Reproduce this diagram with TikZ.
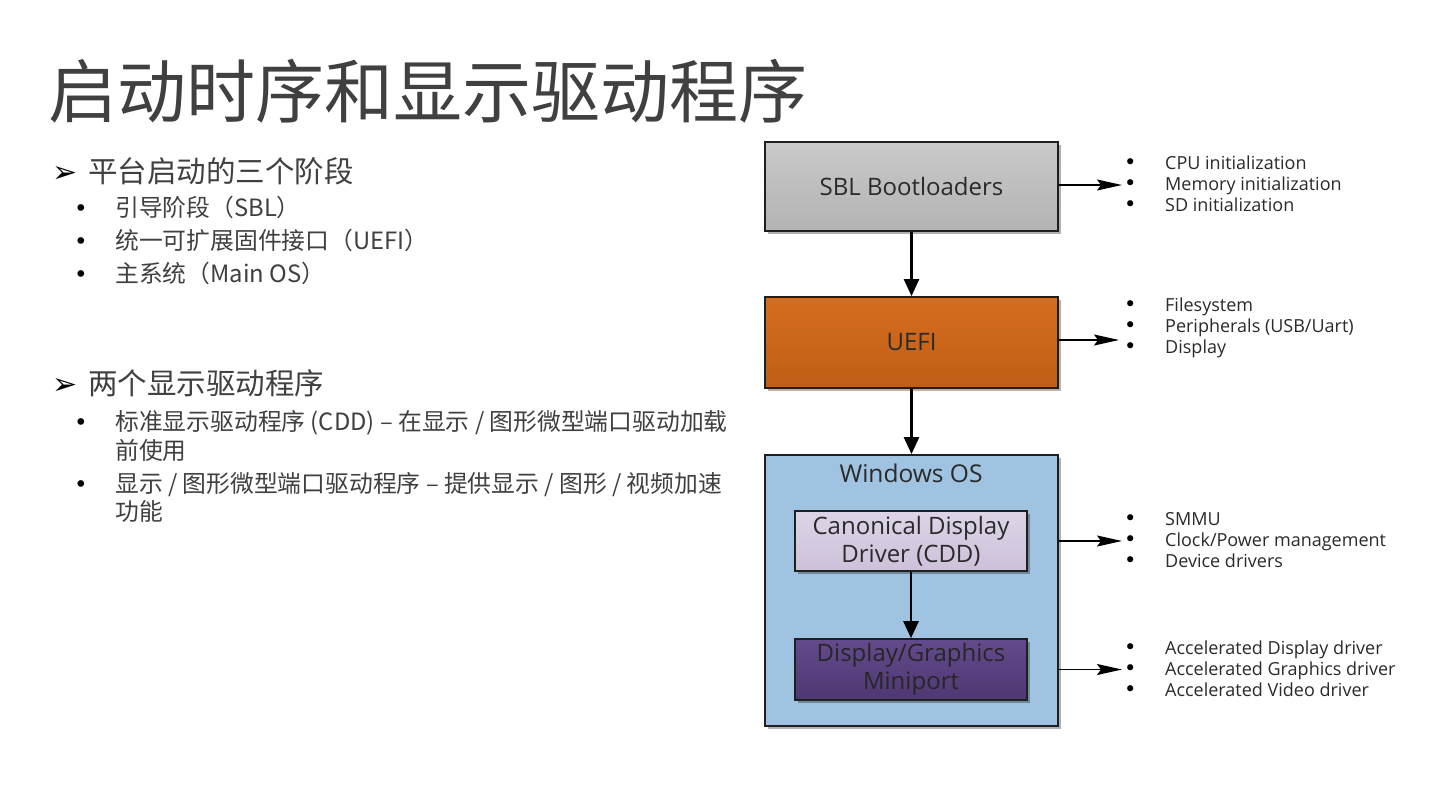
\documentclass[tikz,border=0pt]{standalone}
\usepackage{fontspec}
\setmainfont{Open Sans}
\newfontfamily\cjk{Noto Sans CJK SC}
\newfontfamily\dejavu{DejaVu Sans}
\usetikzlibrary{arrows.meta,shadows}
\definecolor{txt}{HTML}{404040}
\definecolor{boxtxt}{HTML}{2A2A2A}
\definecolor{sblTop}{HTML}{C9C9C9}
\definecolor{sblBot}{HTML}{B3B3B3}
\definecolor{uefiTop}{HTML}{D66D1E}
\definecolor{uefiBot}{HTML}{BF5E17}
\definecolor{winFill}{HTML}{9FC3E0}
\definecolor{cddTop}{HTML}{DDD5E7}
\definecolor{cddBot}{HTML}{CDC1DA}
\definecolor{miniTop}{HTML}{634A8C}
\definecolor{miniBot}{HTML}{4E3872}
\newcommand{\arrbul}{\makebox[36pt][l]{\raisebox{0pt}{\color{black}\dejavu\fontsize{30}{30}\selectfont ➢}}}
\newcommand{\dotbul}{\makebox[41pt][l]{\color{black}\dejavu\fontsize{23}{23}\selectfont •}}
\newcommand{\rbul}{\makebox[41pt][l]{\color{black}\dejavu\fontsize{21}{21}\selectfont •}}
\begin{document}
\begin{tikzpicture}[x=1pt,y=-1pt,
  lft/.style={anchor=base west, inner sep=0pt, text=txt},
  headtxt/.style={lft, font=\cjk\fontsize{29.5}{29.5}\selectfont},
  subtxt/.style={lft, font=\cjk\fontsize{23.8}{29}\selectfont},
  box/.style={draw=black!88, line width=1.8pt, minimum width=293pt, inner sep=0pt,
    text=boxtxt, font=\fontsize{24}{28}\selectfont, align=center,
    drop shadow={shadow xshift=2.5pt, shadow yshift=-2.5pt, opacity=0.3, fill=black}},
  inbox/.style={box, minimum width=232pt, line width=1.6pt},
  varrow/.style={line width=2.6pt, black, -{Triangle[length=17pt,width=15pt]}},
  harrow/.style={line width=1.4pt, black, -{Stealth[length=25pt,width=11pt,inset=4pt]}},
  rlist/.style={anchor=west, inner sep=0pt, align=left, text=boxtxt,
    font=\fontsize{18}{21}\selectfont}
]
\useasboundingbox[fill=white] (0,0) rectangle (1441,811);

% title
\node[lft, font=\cjk\fontsize{69}{69}\selectfont] (title) at (48,117) {启动时序和显示驱动程序};

% left text
\node[headtxt] (h1) at (52,182) {\arrbul 平台启动的三个阶段};
\node[subtxt] (s1) at (74,216) {\dotbul 引导阶段（SBL）};
\node[subtxt] (s2) at (74,249) {\dotbul 统一可扩展固件接口（UEFI）};
\node[subtxt] (s3) at (74,282) {\dotbul 主系统（Main OS）};
\node[headtxt] (h2) at (52,394) {\arrbul 两个显示驱动程序};
\node[subtxt] (s4) at (74,430) {\dotbul 标准显示驱动程序 (CDD) – 在显示 / 图形微型端口驱动加载};
\node[subtxt] (s4b) at (115,459) {前使用};
\node[subtxt] (s5) at (74,492) {\dotbul 显示 / 图形微型端口驱动程序 – 提供显示 / 图形 / 视频加速};
\node[subtxt] (s5b) at (115,520) {功能};

% diagram boxes
\node[box, minimum height=89pt, top color=sblTop, bottom color=sblBot] (sbl) at (911.5,186.5) {SBL Bootloaders};
\node[box, minimum height=91pt, top color=uefiTop, bottom color=uefiBot] (uefi) at (911.5,342.5) {UEFI};
\node[box, minimum height=271pt, fill=winFill] (win) at (911.5,590.5) {};
\node[inner sep=0pt, text=boxtxt, font=\fontsize{24.5}{28}\selectfont] (wlab) at (911,473) {Windows OS};
\node[inbox, minimum height=60pt, top color=cddTop, bottom color=cddBot] (cdd) at (911,541) {Canonical Display\\Driver (CDD)};
\node[inbox, minimum height=61pt, top color=miniTop, bottom color=miniBot, text=black!85] (mini) at (911,669.5) {Display/Graphics\\Miniport};

% vertical arrows
\draw[varrow] (sbl.south) -- (uefi.north);
\draw[varrow] (uefi.south) -- (win.north);
\draw[varrow] (cdd.south) -- (mini.north);

% right lists
\node[rlist] (l1) at (1124,184) {\rbul CPU initialization\\\rbul Memory initialization\\\rbul SD initialization};
\node[rlist] (l2) at (1124,328) {\rbul Filesystem\\\rbul Peripherals (USB/Uart)\\\rbul Display};
\node[rlist] (l3) at (1124,540) {\rbul SMMU\\\rbul Clock/Power management\\\rbul Device drivers};
\node[rlist] (l4) at (1124,669) {\rbul Accelerated Display driver\\\rbul Accelerated Graphics driver\\\rbul Accelerated Video driver};

% side arrows
\coordinate (t1) at (1122,185);
\coordinate (t2) at (1119,340);
\coordinate (t3) at (1122,541);
\coordinate (t4) at (1122,669.5);
\draw[harrow] (sbl.east |- t1) -- (t1);
\draw[harrow] (uefi.east |- t2) -- (t2);
\draw[harrow] (win.east |- t3) -- (t3);
\draw[harrow] (win.east |- t4) -- (t4);
\end{tikzpicture}
\end{document}
